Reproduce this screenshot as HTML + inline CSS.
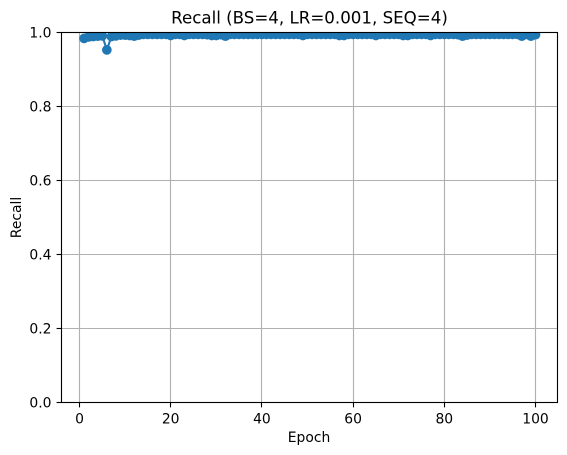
<!DOCTYPE html>
<html lang="en">
<head>
<meta charset="utf-8">
<title>Recall chart</title>
<style>
html,body{margin:0;padding:0;background:#fff;width:567px;height:455px;overflow:hidden}
svg{display:block}
text{font-family:"DejaVu Sans",sans-serif;fill:#000}
</style>
</head>
<body>
<svg id="chart" width="567" height="455" viewBox="0 0 567 455" xmlns="http://www.w3.org/2000/svg">
  <defs><clipPath id="plot-clip"><rect x="61.5" y="32.5" width="496" height="370"/></clipPath></defs>
  <g id="grid"></g>
  <g id="series" clip-path="url(#plot-clip)"></g>
  <g id="ticks"></g>
  <rect x="61.5" y="32.5" width="496" height="370" fill="none" stroke="#000" stroke-width="1.11"/>
  <text x="309.5" y="23.5" font-size="16.67" text-anchor="middle">Recall (BS=4, LR=0.001, SEQ=4)</text>
  <text x="309" y="442" font-size="13.89" text-anchor="middle">Epoch</text>
  <text x="21" y="217.5" font-size="13.89" text-anchor="middle" transform="rotate(-90 21 217.5)">Recall</text>
</svg>
<script>
const xTickValues = [0, 20, 40, 60, 80, 100];
const yTickValues = [0, 0.2, 0.4, 0.6, 0.8, 1];
const yTickLabels = ["0.0", "0.2", "0.4", "0.6", "0.8", "1.0"];
const epochs = [1,2,3,4,5,6,7,8,9,10,11,12,13,14,15,16,17,18,19,20,21,22,23,24,25,26,27,28,29,30,31,32,33,34,35,36,37,38,39,40,41,42,43,44,45,46,47,48,49,50,51,52,53,54,55,56,57,58,59,60,61,62,63,64,65,66,67,68,69,70,71,72,73,74,75,76,77,78,79,80,81,82,83,84,85,86,87,88,89,90,91,92,93,94,95,96,97,98,99,100];
const recall = [0.984,0.988,0.989,0.990,0.991,0.953,0.989,0.991,0.993,0.993,0.992,0.990,0.993,0.995,0.995,0.995,0.995,0.995,0.995,0.992,0.995,0.995,0.992,0.995,0.995,0.995,0.995,0.994,0.992,0.992,0.994,0.990,0.995,0.995,0.995,0.995,0.995,0.995,0.995,0.995,0.995,0.995,0.995,0.995,0.995,0.995,0.995,0.995,0.992,0.995,0.995,0.995,0.995,0.995,0.995,0.995,0.992,0.992,0.995,0.995,0.995,0.995,0.995,0.995,0.992,0.995,0.995,0.995,0.995,0.995,0.992,0.992,0.995,0.995,0.995,0.995,0.992,0.995,0.995,0.995,0.995,0.995,0.994,0.990,0.993,0.995,0.995,0.995,0.995,0.995,0.995,0.995,0.995,0.995,0.995,0.995,0.990,0.995,0.990,0.994];

const NS = "http://www.w3.org/2000/svg";
function xScale(v) { return 79.5 + v * 4.56; }
function yScale(v) { return 402.5 - v * 370; }
function snap(p) { return Math.floor(p) + 0.5; }
function make(tag, attrs, parent) {
  const el = document.createElementNS(NS, tag);
  for (const k in attrs) el.setAttribute(k, attrs[k]);
  parent.appendChild(el);
  return el;
}
const grid = document.getElementById("grid");
const ticks = document.getElementById("ticks");
const series = document.getElementById("series");

xTickValues.forEach(function (v) {
  const x = snap(xScale(v));
  const g = make("line", {x1: x, x2: x, y1: 32.5, y2: 402.5, stroke: "#b0b0b0", "stroke-width": 1.11}, grid);
  
  
  const t = make("line", {x1: x, x2: x, y1: 402.5, y2: 407.4, stroke: "#000", "stroke-width": 1.11}, ticks);
  
  
  const l = make("text", {x: xScale(v), y: 423.5, "font-size": 13.89, "text-anchor": "middle"}, ticks);
  
  
  l.textContent = String(v);
});
yTickValues.forEach(function (v, i) {
  const y = snap(yScale(v));
  const g = make("line", {x1: 61.5, x2: 557.5, y1: y, y2: y, stroke: "#b0b0b0", "stroke-width": 1.11}, grid);
  
  
  const t = make("line", {x1: 56.6, x2: 61.5, y1: y, y2: y, stroke: "#000", "stroke-width": 1.11}, ticks);
  
  
  const l = make("text", {x: 51.5, y: y + 5.2, "font-size": 13.89, "text-anchor": "end"}, ticks);
  
  
  l.textContent = yTickLabels[i];
});

const pts = epochs.map(function (e, i) { return xScale(e) + "," + yScale(recall[i]); }).join(" ");
const line = make("polyline", {points: pts, fill: "none", stroke: "#1f77b4", "stroke-width": 2.08, "stroke-linejoin": "round"}, series);


epochs.forEach(function (e, i) {
  const c = make("circle", {cx: xScale(e), cy: yScale(recall[i]), r: 4.86, fill: "#1f77b4"}, series);
  
  
});
</script>
</body>
</html>
